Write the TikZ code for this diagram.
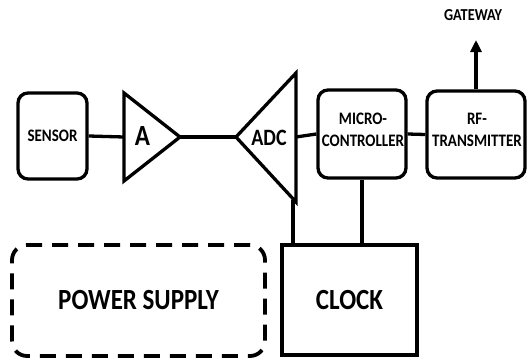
\documentclass[tikz,border=0pt]{standalone}
\usepackage{fontspec}
\usepackage{graphicx}
\setmainfont{Carlito}
\usetikzlibrary{arrows.meta}
\newcommand\stx[1]{\scalebox{1}[1.17]{#1}}
\begin{document}
\begin{tikzpicture}[x=1pt,y=-1pt,line width=3.3pt,line join=miter,
  small/.style={font=\bfseries\fontsize{15}{18.8}\selectfont},
  big/.style={font=\bfseries\fontsize{25}{30}\selectfont},
  box/.style={draw,rounded corners=10pt,inner sep=0pt,small},
  wire/.style={draw,line width=3.3pt}]
\useasboundingbox (0,0) rectangle (528,362);
% blocks
\node[box,minimum width=69pt,minimum height=86pt] (sensor) at (52.5,136) {\stx{SENSOR}};
\node[box,minimum width=88pt,minimum height=88pt] (mcu) at (362,134) {};
\node[small,inner sep=0pt] (mcutxt) at (363,131) {\stx{\begin{tabular}{@{}c@{}}MICRO-\\CONTROLLER\end{tabular}}};
\node[box,minimum width=98pt,minimum height=87pt] (rf) at (476,134.5) {};
\node[small,inner sep=0pt] (rftxt) at (477,131) {\stx{\begin{tabular}{@{}c@{}}RF-\\TRANSMITTER\end{tabular}}};
\node[draw,line width=3.6pt,minimum width=135pt,minimum height=110pt,inner sep=0pt,big] (clock) at (349.5,300) {\stx{CLOCK}};
\node[draw,dashed,dash pattern=on 16pt off 10pt,line width=3.8pt,rounded corners=15pt,minimum width=253pt,minimum height=111pt,inner sep=0pt,big] (power) at (138.5,300.5) {\stx{POWER SUPPLY}};
% amplifier triangle
\coordinate (ampT) at (124,93);
\coordinate (ampB) at (124,181);
\coordinate (ampin) at (124,137);
\coordinate (ampout) at (180,137);
\draw (ampT) -- (ampout) -- (ampB) -- cycle;
\node[big,inner sep=0pt] (amptxt) at (142.5,136) {\stx{A}};
% ADC triangle
\coordinate (adcin) at (236,137);
\coordinate (adcT) at (296,73);
\coordinate (adcB) at (296,202);
\coordinate (adcout) at (296,137);
\coordinate (adcfoot) at (293,200);
\draw (adcin) -- (adcT) -- (adcB) -- cycle;
\node[font=\bfseries\fontsize{20}{24}\selectfont,inner sep=0pt] (adctxt) at (269,138) {\stx{ADC}};
% gateway
\node[small,font=\bfseries\fontsize{14.3}{17}\selectfont,inner sep=0pt] (gw) at (473,15) {\stx{GATEWAY}};
\coordinate (gwtip) at (476,40);
% connectors
\draw[wire] (sensor.east) -- (ampin);
\draw[wire] (ampout) -- (adcin);
\draw[wire] (adcout) -- (mcu.west);
\draw[wire] (mcu.east) -- (rf.west);
\draw[wire,-{Triangle[length=12pt,width=11pt]}] (rf.north) -- (gwtip);
\draw[wire] (adcfoot) -- (adcfoot |- clock.north);
\draw[wire] (mcu.south) -- (mcu.south |- clock.north);
\end{tikzpicture}
\end{document}
